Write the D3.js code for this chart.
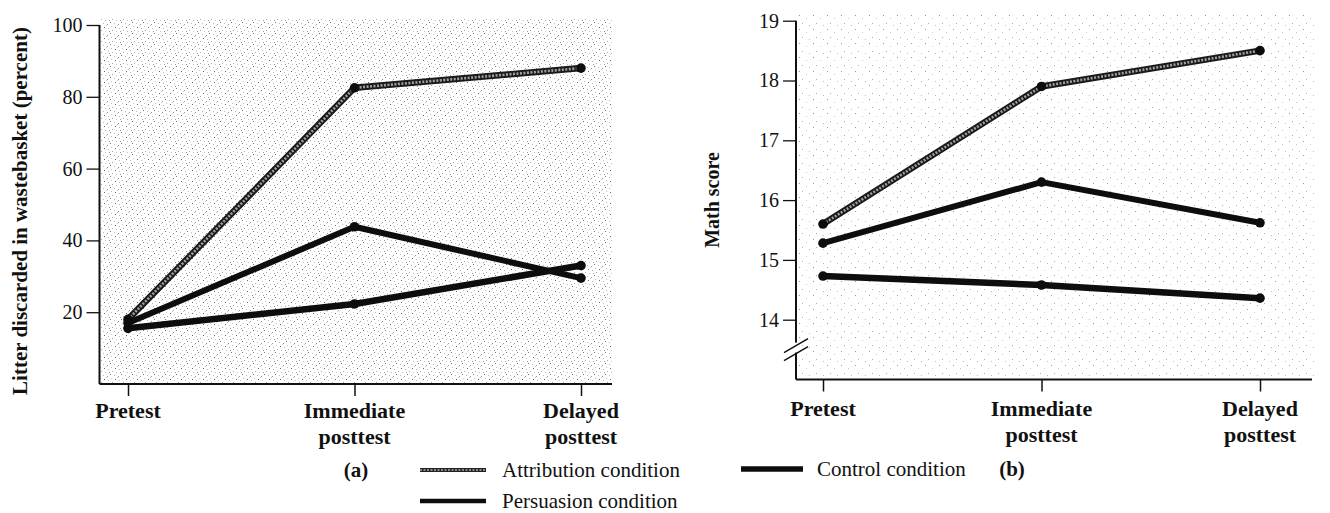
<!DOCTYPE html>
<html>
<head>
<meta charset="utf-8">
<script src="https://cdn.jsdelivr.net/npm/d3@7"></script>
<style>
  body { margin: 0; background: #fff; }
  svg { display: block; }
  svg text { font-family: "Liberation Serif", "Times New Roman", Times, "DejaVu Serif", "Noto Serif", serif !important; fill: #111; }
</style>
</head>
<body>
<svg id="chart" width="1330" height="513"></svg>
<script>
// data
var phases = ["Pretest", "Immediate posttest", "Delayed posttest"];
var phaseLines = [["Pretest"], ["Immediate", "posttest"], ["Delayed", "posttest"]];

// (a) litter discarded in wastebasket (percent)
var litterAttribution = [18, 82.5, 88];
var litterPersuasion = [17, 43.8, 29.5];
var litterControl = [15.5, 22.3, 33];
var litterTicks = [20, 40, 60, 80, 100];

// (b) math score
var mathAttribution = [15.6, 17.9, 18.5];
var mathPersuasion = [15.28, 16.3, 15.62];
var mathControl = [14.73, 14.58, 14.36];
var mathTicks = [14, 15, 16, 17, 18, 19];

var seriesNames = ["Attribution condition", "Persuasion condition", "Control condition"];

var svg = d3.select("#chart");

// stipple patterns for the shaded plot areas
var defs = svg.append("defs");
function stipple(id, size, dots) {
  var p = defs.append("pattern").attr("id", id)
    .attr("width", size).attr("height", size)
    .attr("patternUnits", "userSpaceOnUse");
  dots.forEach(function(d) {
    p.append("rect").attr("x", d[0]).attr("y", d[1])
      .attr("width", 1).attr("height", 1).attr("fill", d[2]);
  });
}
stipple("dense", 11, [
  [0,0,"#777"],[4,1,"#bbb"],[8,2,"#999"],[1,4,"#c4c4c4"],[5,5,"#666"],
  [9,6,"#bbb"],[2,8,"#aaa"],[6,9,"#c4c4c4"],[10,9,"#999"],[7,3,"#ccc"]
]);
stipple("sparse", 14, [
  [1,1,"#999"],[8,4,"#ccc"],[4,9,"#aaa"],[11,11,"#bbb"]
]);

// lines styles
function drawSeries(g, x, y, values, kind) {
  var line = d3.line()
    .x(function(d, i) { return x(phases[i]); })
    .y(function(d) { return y(d); });
  if (kind === 0) {
    g.append("path").datum(values).attr("d", line)
      .attr("fill", "none").attr("stroke", "#1a1a1a").attr("stroke-width", 6.5)
      .attr("stroke-linejoin", "round");
    g.append("path").datum(values).attr("d", line)
      .attr("fill", "none").attr("stroke", "#a0a0a0").attr("stroke-width", 2.6)
      .attr("stroke-dasharray", "2,1.5");
  } else {
    g.append("path").datum(values).attr("d", line)
      .attr("fill", "none").attr("stroke", "#0d0d0d")
      .attr("stroke-width", kind === 1 ? 6 : 6.5)
      .attr("stroke-linejoin", "round");
  }
  g.selectAll(null).data(values).enter().append("circle")
    .attr("cx", function(d, i) { return x(phases[i]); })
    .attr("cy", function(d) { return y(d); })
    .attr("r", 4.8).attr("fill", "#0d0d0d");
}

function xLabels(g, x, y0) {
  phases.forEach(function(p, i) {
    var t = g.append("text")
      .attr("text-anchor", "middle")
      .attr("font-weight", "bold")
      .attr("font-size", 22);
    phaseLines[i].forEach(function(s, j) {
      t.append("tspan").attr("x", x(p)).attr("y", y0 + j * 26).text(s);
    });
  });
}

// ---------- panel (a) ----------
var xA = d3.scalePoint().domain(phases).range([128, 581]);
var yA = d3.scaleLinear().domain([0, 100]).range([384, 25]);

svg.append("rect").attr("x", 100).attr("y", 18).attr("width", 512).attr("height", 366)
  .attr("fill", "url(#dense)");

var gA = svg.append("g");
gA.append("g")
  .attr("transform", "translate(99.5,0)")
  .call(d3.axisLeft(yA).tickValues(litterTicks).tickSize(13).tickSizeOuter(0).tickPadding(4).tickFormat(d3.format("d")))
  .call(function(a) {
    a.attr("font-family", null);
    a.select(".domain").attr("stroke", "#111").attr("stroke-width", 2).attr("d", "M0," + yA(100) + "V" + yA(0));
    a.selectAll(".tick line").attr("stroke", "#111").attr("stroke-width", 1.3);
    a.selectAll(".tick text").attr("font-size", 20).attr("fill", "#111");
  });
gA.append("g")
  .attr("transform", "translate(0," + yA(0) + ")")
  .call(d3.axisBottom(xA).tickSize(12).tickSizeOuter(0).tickFormat(""))
  .call(function(a) {
    a.select(".domain").attr("stroke", "#111").attr("stroke-width", 2).attr("d", "M99.5,0H612");
    a.selectAll(".tick line").attr("stroke", "#111").attr("stroke-width", 1.5);
  });
xLabels(gA, xA, 418);

gA.append("text")
  .attr("transform", "translate(27,211) rotate(-90)")
  .attr("text-anchor", "middle")
  .attr("font-weight", "bold").attr("font-size", 21)
  .text("Litter discarded in wastebasket (percent)");

drawSeries(gA, xA, yA, litterControl, 2);
drawSeries(gA, xA, yA, litterPersuasion, 1);
drawSeries(gA, xA, yA, litterAttribution, 0);

// ---------- panel (b) ----------
var xB = d3.scalePoint().domain(phases).range([823, 1260]);
var yB = d3.scaleLinear().domain([13, 19]).range([379.5, 20.7]);

svg.append("rect").attr("x", 797).attr("y", 12).attr("width", 518).attr("height", 367)
  .attr("fill", "url(#sparse)");

var gB = svg.append("g");
gB.append("g")
  .attr("transform", "translate(796,0)")
  .call(d3.axisLeft(yB).tickValues(mathTicks).tickSize(13).tickSizeOuter(0).tickPadding(4).tickFormat(d3.format("d")))
  .call(function(a) {
    a.attr("font-family", null);
    a.select(".domain").attr("stroke", "#111").attr("stroke-width", 2).attr("d", "M0," + yB(19) + "V" + yB(13));
    a.selectAll(".tick line").attr("stroke", "#111").attr("stroke-width", 1.3);
    a.selectAll(".tick text").attr("font-size", 20).attr("fill", "#111");
  });
// axis break
var yBreak = yB(13.5);
gB.append("rect").attr("x", 793).attr("y", yBreak - 7).attr("width", 6).attr("height", 10).attr("fill", "#fff");
[-4, 4].forEach(function(o) {
  gB.append("line")
    .attr("x1", 784).attr("y1", yBreak + 7 + o)
    .attr("x2", 808).attr("y2", yBreak - 7 + o)
    .attr("stroke", "#111").attr("stroke-width", 1.5);
});
gB.append("g")
  .attr("transform", "translate(0," + yB(13) + ")")
  .call(d3.axisBottom(xB).tickSize(12).tickSizeOuter(0).tickFormat(""))
  .call(function(a) {
    a.select(".domain").attr("stroke", "#111").attr("stroke-width", 2).attr("d", "M796,0H1312");
    a.selectAll(".tick line").attr("stroke", "#111").attr("stroke-width", 1.5);
  });
xLabels(gB, xB, 416);

gB.append("text")
  .attr("transform", "translate(719,200) rotate(-90)")
  .attr("text-anchor", "middle")
  .attr("font-weight", "bold").attr("font-size", 20)
  .text("Math score");

drawSeries(gB, xB, yB, mathControl, 2);
drawSeries(gB, xB, yB, mathPersuasion, 1);
drawSeries(gB, xB, yB, mathAttribution, 0);

// ---------- captions and legend ----------
svg.append("text").attr("x", 356).attr("y", 477).attr("text-anchor", "middle")
  .attr("font-weight", "bold").attr("font-size", 21).text("(a)");
svg.append("text").attr("x", 1012).attr("y", 476).attr("text-anchor", "middle")
  .attr("font-weight", "bold").attr("font-size", 21).text("(b)");

var legendPos = [[420, 470], [420, 501], [741, 469]];
seriesNames.forEach(function(name, i) {
  var p = legendPos[i];
  var w = i === 2 ? 62 : 66;
  if (i === 0) {
    svg.append("line").attr("x1", p[0]).attr("x2", p[0] + w).attr("y1", p[1]).attr("y2", p[1])
      .attr("stroke", "#222").attr("stroke-width", 4);
    svg.append("line").attr("x1", p[0]).attr("x2", p[0] + w).attr("y1", p[1]).attr("y2", p[1])
      .attr("stroke", "#aaa").attr("stroke-width", 1.6).attr("stroke-dasharray", "2,1.5");
  } else {
    svg.append("line").attr("x1", p[0]).attr("x2", p[0] + w).attr("y1", p[1]).attr("y2", p[1])
      .attr("stroke", "#0d0d0d").attr("stroke-width", i === 2 ? 5.5 : 4.5);
  }
  svg.append("text").attr("x", p[0] + w + (i === 2 ? 14 : 16)).attr("y", p[1] + 7)
    .attr("font-size", 21).text(name);
});
</script>
</body>
</html>
